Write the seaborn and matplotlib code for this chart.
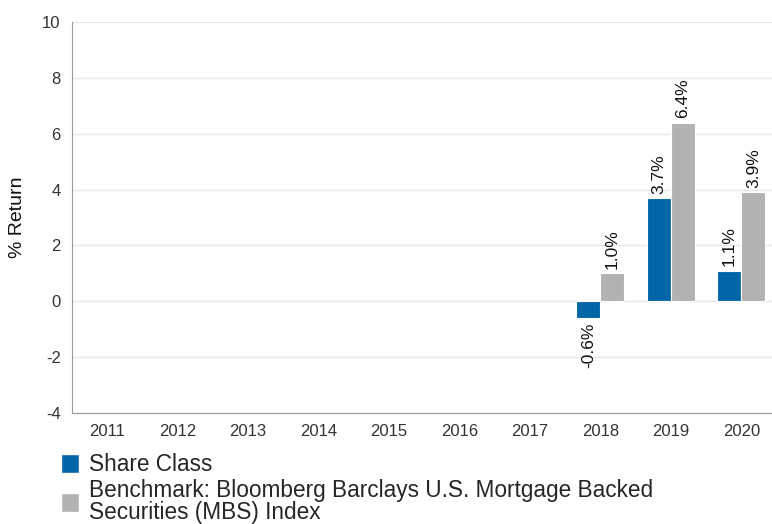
import pandas as pd
import matplotlib.pyplot as plt
import seaborn as sns
from matplotlib.patches import Patch

# Data
years = ['2011', '2012', '2013', '2014', '2015', '2016', '2017', '2018', '2019', '2020']
data_years = ['2018', '2019', '2020']
share_class = [-0.6, 3.7, 1.1]
benchmark = [1.0, 6.4, 3.9]
series_names = ['Share Class', 'Benchmark: Bloomberg Barclays U.S. Mortgage Backed\nSecurities (MBS) Index']
colors = ['#0066a8', '#b2b2b2']

df = pd.DataFrame({
    'Year': data_years * 2,
    'Return': share_class + benchmark,
    'Series': [series_names[0]] * 3 + [series_names[1]] * 3,
})

sns.set_style('white')
plt.rcParams['font.family'] = ['Liberation Sans', 'DejaVu Sans']
plt.rcParams['axes.unicode_minus'] = False

fig = plt.figure(figsize=(7.72, 5.24), dpi=100)
ax = fig.add_axes([0.093, 0.212, 0.913, 0.746])

sns.barplot(data=df, x='Year', y='Return', hue='Series', order=years,
            hue_order=series_names, palette=colors, saturation=1, width=0.68,
            edgecolor='white', linewidth=0.8, legend=False, ax=ax)

for c in ax.containers:
    ax.bar_label(c, labels=[f'{b.get_height():.1f}%' for b in c],
                 rotation=90, padding=3, fontsize=12.5, color='#111111')

ax.set_ylim(-4, 10)
ax.set_yticks(range(-4, 11, 2))
ax.set_xlim(-0.5, 9.5)
ax.grid(axis='y', color='#e6e6e6', linewidth=1)
ax.set_axisbelow(True)
for s in ['top', 'right']:
    ax.spines[s].set_visible(False)
for s in ['left', 'bottom']:
    ax.spines[s].set_color('#999999')
ax.tick_params(axis='both', labelsize=12, colors='#333333', length=0, pad=8)
ax.set_xlabel('')
ax.set_ylabel('% Return', fontsize=14, labelpad=12, color='#111111')

handles = [Patch(facecolor=col) for col in colors]
leg = fig.legend(handles, series_names, loc='upper left', bbox_to_anchor=(0.079, 0.135),
                 frameon=False, fontsize=16.3, handlelength=0.8, handleheight=0.9,
                 handletextpad=0.45, labelspacing=0.12, borderaxespad=0, borderpad=0)
for t in leg.get_texts():
    t.set_linespacing(0.95)

fig.savefig('out.png', dpi=100)
